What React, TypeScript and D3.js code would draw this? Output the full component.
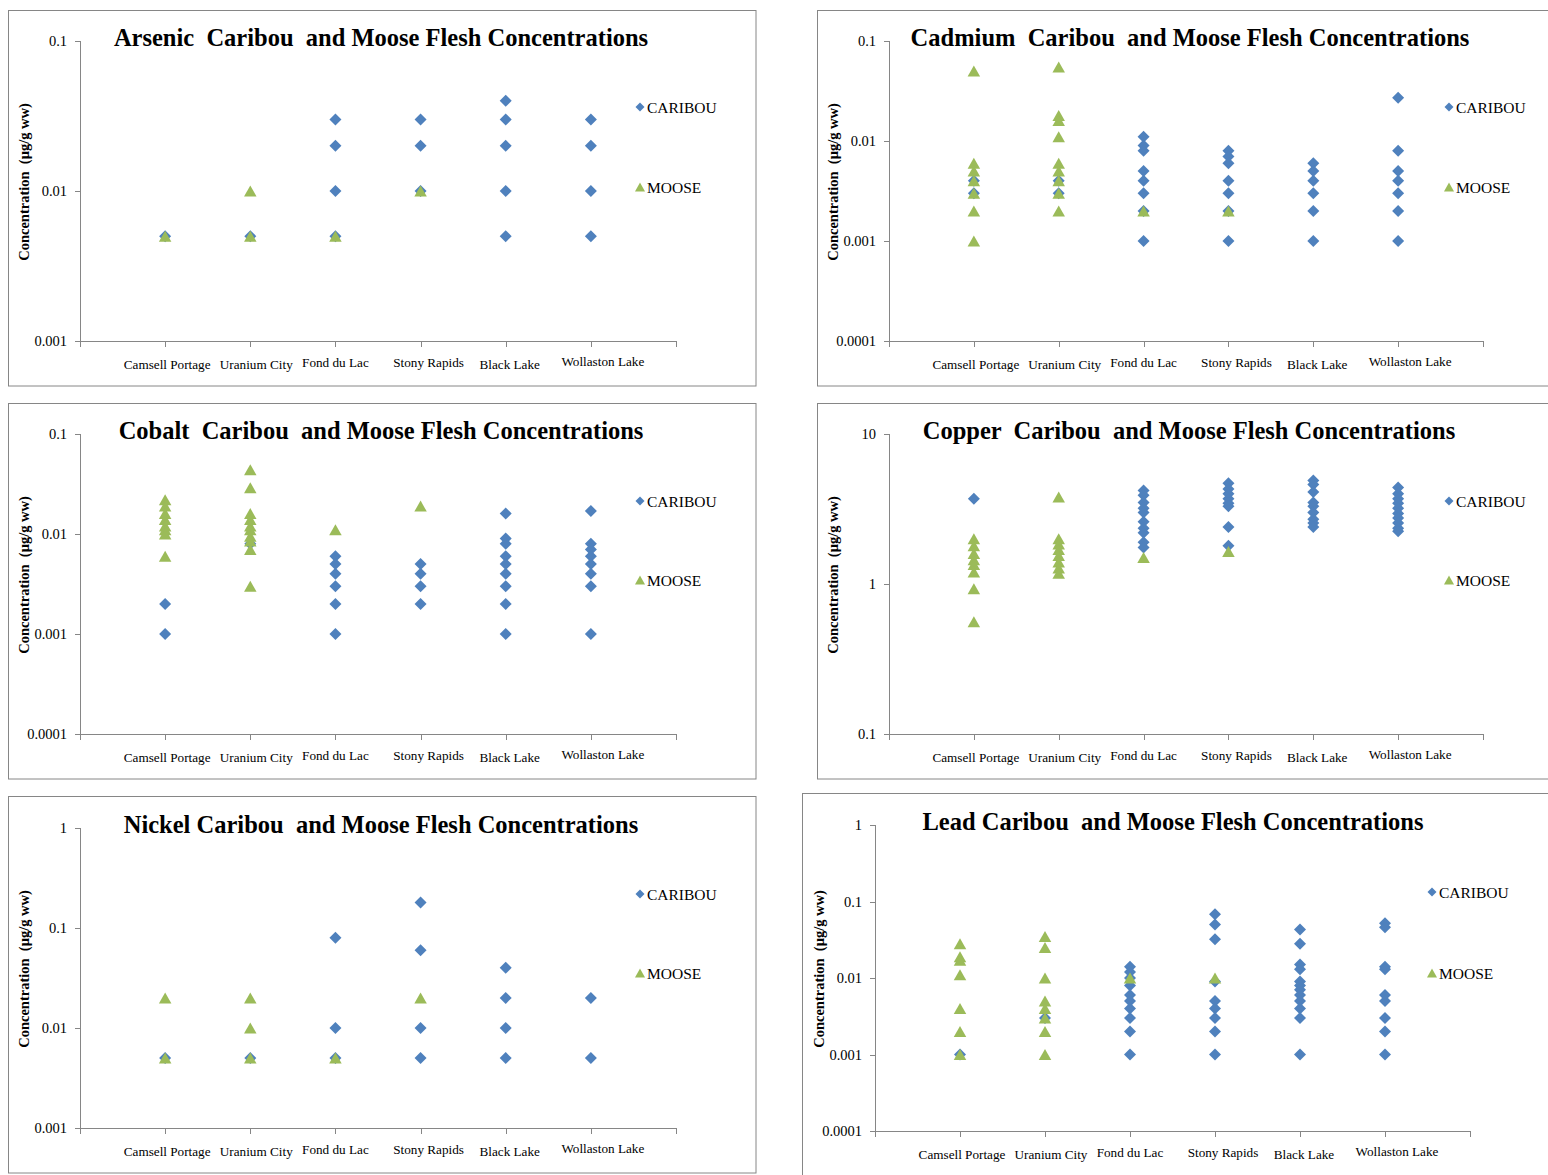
import React from 'react';
import * as d3 from 'd3';

// ---------- data ----------
const LOCATIONS = ['Camsell Portage', 'Uranium City', 'Fond du Lac', 'Stony Rapids', 'Black Lake', 'Wollaston Lake'];
const SERIES_NAMES = ['CARIBOU', 'MOOSE'];

const arsenicCaribou = [[0.005], [0.005], [0.03, 0.02, 0.01, 0.005], [0.03, 0.02, 0.01], [0.04, 0.03, 0.02, 0.01, 0.005], [0.03, 0.02, 0.01, 0.005]];
const arsenicMoose = [[0.005], [0.01, 0.005], [0.005], [0.01], [], []];
const arsenicTicks = [0.001, 0.01, 0.1];

const cadmiumCaribou = [[0.004, 0.003], [0.004, 0.003], [0.011, 0.009, 0.008, 0.005, 0.004, 0.003, 0.002, 0.001], [0.008, 0.007, 0.006, 0.004, 0.003, 0.002, 0.001], [0.006, 0.005, 0.004, 0.003, 0.002, 0.001], [0.027, 0.008, 0.005, 0.004, 0.003, 0.002, 0.001]];
const cadmiumMoose = [[0.05, 0.006, 0.005, 0.004, 0.003, 0.002, 0.001], [0.055, 0.018, 0.016, 0.011, 0.006, 0.005, 0.004, 0.003, 0.002], [0.002], [0.002], [], []];
const cadmiumTicks = [0.0001, 0.001, 0.01, 0.1];

const cobaltCaribou = [[0.002, 0.001], [0.008], [0.006, 0.005, 0.004, 0.003, 0.002, 0.001], [0.005, 0.004, 0.003, 0.002], [0.016, 0.009, 0.008, 0.006, 0.005, 0.004, 0.003, 0.002, 0.001], [0.017, 0.008, 0.007, 0.006, 0.005, 0.004, 0.003, 0.001]];
const cobaltMoose = [[0.022, 0.019, 0.016, 0.014, 0.012, 0.011, 0.01, 0.006], [0.044, 0.029, 0.016, 0.014, 0.012, 0.011, 0.0095, 0.0085, 0.007, 0.003], [0.011], [0.019], [], []];
const cobaltTicks = [0.0001, 0.001, 0.01, 0.1];

const copperCaribou = [[3.7], [], [4.2, 3.9, 3.5, 3.2, 3.0, 2.6, 2.35, 2.2, 1.9, 1.75], [4.7, 4.3, 4.0, 3.7, 3.45, 3.3, 2.4, 1.8], [4.9, 4.6, 4.1, 3.5, 3.3, 3.0, 2.7, 2.55, 2.4], [4.4, 4.0, 3.7, 3.45, 3.2, 2.95, 2.75, 2.55, 2.35, 2.25]];
const copperMoose = [[2.0, 1.8, 1.6, 1.45, 1.35, 1.2, 0.93, 0.56], [3.8, 2.0, 1.85, 1.7, 1.55, 1.4, 1.28, 1.18], [1.5], [1.65], [], []];
const copperTicks = [0.1, 1, 10];

const nickelCaribou = [[0.005], [0.005], [0.08, 0.01, 0.005], [0.18, 0.06, 0.01, 0.005], [0.04, 0.02, 0.01, 0.005], [0.02, 0.005]];
const nickelMoose = [[0.02, 0.005], [0.02, 0.01, 0.005], [0.005], [0.02], [], []];
const nickelTicks = [0.001, 0.01, 0.1, 1];

const leadCaribou = [[0.001], [0.003], [0.014, 0.012, 0.01, 0.008, 0.006, 0.005, 0.004, 0.003, 0.002, 0.001], [0.068, 0.05, 0.032, 0.009, 0.005, 0.004, 0.003, 0.002, 0.001], [0.043, 0.028, 0.015, 0.013, 0.009, 0.008, 0.007, 0.006, 0.005, 0.004, 0.003, 0.001], [0.052, 0.046, 0.014, 0.013, 0.006, 0.005, 0.003, 0.002, 0.001]];
const leadMoose = [[0.028, 0.019, 0.017, 0.011, 0.004, 0.002, 0.001], [0.035, 0.025, 0.01, 0.005, 0.004, 0.003, 0.002, 0.001], [0.01], [0.01], [], []];
const leadTicks = [0.0001, 0.001, 0.01, 0.1, 1];

// ---------- layout / style ----------
const BLUE = '#4F81BD';
const GREEN = '#9BBB59';
const AXIS = '#868686';
const SERIF = '"Times New Roman", "Liberation Serif", "DejaVu Serif", serif';
const LABEL_DX = [2, 6, 0, 8, 4, 12];
const LABEL_DY = [0, 0, -2, -2, 0, -3];

type Spec = {
  title: string; caribou: number[][]; moose: number[][]; ticks: number[];
  box: [number, number, number, number];
  left: number; right: number; top: number; bottom: number;
  titleX: number; legendX: number; legendY1: number; legendY2: number;
};

const PANELS: Spec[] = [
  { title: 'Arsenic  Caribou  and Moose Flesh Concentrations', caribou: arsenicCaribou, moose: arsenicMoose, ticks: arsenicTicks,
    box: [8.5, 10.5, 747.5, 375.5], left: 80, right: 676, top: 41, bottom: 341, titleX: 381, legendX: 640, legendY1: 107, legendY2: 187 },
  { title: 'Cadmium  Caribou  and Moose Flesh Concentrations', caribou: cadmiumCaribou, moose: cadmiumMoose, ticks: cadmiumTicks,
    box: [817.5, 10.5, 760, 375.5], left: 889, right: 1483, top: 41, bottom: 341, titleX: 1190, legendX: 1449, legendY1: 107, legendY2: 187 },
  { title: 'Cobalt  Caribou  and Moose Flesh Concentrations', caribou: cobaltCaribou, moose: cobaltMoose, ticks: cobaltTicks,
    box: [8.5, 403.5, 747.5, 375.5], left: 80, right: 676, top: 434, bottom: 734, titleX: 381, legendX: 640, legendY1: 501, legendY2: 580 },
  { title: 'Copper  Caribou  and Moose Flesh Concentrations', caribou: copperCaribou, moose: copperMoose, ticks: copperTicks,
    box: [817.5, 403.5, 760, 375.5], left: 889, right: 1483, top: 434, bottom: 734, titleX: 1189, legendX: 1449, legendY1: 501, legendY2: 580 },
  { title: 'Nickel Caribou  and Moose Flesh Concentrations', caribou: nickelCaribou, moose: nickelMoose, ticks: nickelTicks,
    box: [8.5, 796.5, 747.5, 376.5], left: 80, right: 676, top: 828, bottom: 1128, titleX: 381, legendX: 640, legendY1: 894, legendY2: 973 },
  { title: 'Lead Caribou  and Moose Flesh Concentrations', caribou: leadCaribou, moose: leadMoose, ticks: leadTicks,
    box: [802.5, 793.5, 780, 420], left: 875, right: 1470, top: 825, bottom: 1131, titleX: 1173, legendX: 1432, legendY1: 892, legendY2: 973 },
];

function diamondPath(r: number) {
  const p = d3.path();
  p.moveTo(0, -r); p.lineTo(r, 0); p.lineTo(0, r); p.lineTo(-r, 0); p.closePath();
  return p.toString();
}
function trianglePath(w: number, h: number) {
  const p = d3.path();
  p.moveTo(0, -h / 2); p.lineTo(w / 2, h / 2); p.lineTo(-w / 2, h / 2); p.closePath();
  return p.toString();
}

const DIAMOND = diamondPath(6);
const TRIANGLE = trianglePath(12.5, 11);
const LEG_DIAMOND = diamondPath(4.5);
const LEG_TRIANGLE = trianglePath(10, 9);

function Panel({ s }: { s: Spec }) {
  const x = d3.scaleLinear().domain([0, LOCATIONS.length + 1]).range([s.left, s.right]);
  const y = d3.scaleLog().domain([s.ticks[0], s.ticks[s.ticks.length - 1]]).range([s.bottom, s.top]);
  const xTicks = d3.range(0, LOCATIONS.length + 2);
  const flat = (arr: number[][]) => arr.flatMap((vals, i) => vals.map((v) => ({ i, v })));
  const cPts = flat(s.caribou);
  const mPts = flat(s.moose);
  const midY = (s.top + s.bottom) / 2 - 9;
  const yLabX = s.left - 51;
  return (
    <g>
      <rect x={s.box[0]} y={s.box[1]} width={s.box[2]} height={s.box[3]} fill="white" stroke={AXIS} strokeWidth={1} />
      <text x={s.titleX} y={s.top + 5} textAnchor="middle" fontFamily={SERIF} fontWeight="bold" fontSize={24.5} style={{ whiteSpace: 'pre' }} fill="#000">{s.title}</text>
      {/* y axis */}
      <line x1={s.left + 0.5} x2={s.left + 0.5} y1={s.top} y2={s.bottom} stroke={AXIS} />
      {s.ticks.map((t) => (
        <g key={t}>
          <line x1={s.left - 5} x2={s.left} y1={Math.round(y(t)) + 0.5} y2={Math.round(y(t)) + 0.5} stroke={AXIS} />
          <text x={s.left - 13} y={y(t) + 5} textAnchor="end" fontFamily={SERIF} fontSize={14.5} fill="#000">{String(t)}</text>
        </g>
      ))}
      {/* x axis */}
      <line x1={s.left} x2={s.right} y1={s.bottom + 0.5} y2={s.bottom + 0.5} stroke={AXIS} />
      {xTicks.map((t) => (
        <line key={t} x1={Math.round(x(t)) + 0.5} x2={Math.round(x(t)) + 0.5} y1={s.bottom} y2={s.bottom + 6} stroke={AXIS} />
      ))}
      {LOCATIONS.map((name, i) => (
        <text key={name} x={x(i + 1) + LABEL_DX[i]} y={s.bottom + 28 + LABEL_DY[i]} textAnchor="middle" fontFamily={SERIF} fontSize={13.2} fill="#000">{name}</text>
      ))}
      <text transform={`translate(${yLabX},${midY}) rotate(-90)`} textAnchor="middle" fontFamily={SERIF} fontWeight="bold" fontSize={14.5} style={{ whiteSpace: 'pre' }} fill="#000">{'Concentration  (μg/g ww)'}</text>
      {/* points */}
      {cPts.map((p, k) => (
        <path key={'c' + k} d={DIAMOND} transform={`translate(${x(p.i + 1)},${y(p.v)})`} fill={BLUE} />
      ))}
      {mPts.map((p, k) => (
        <path key={'m' + k} d={TRIANGLE} transform={`translate(${x(p.i + 1)},${y(p.v)})`} fill={GREEN} />
      ))}
      {/* legend */}
      <path d={LEG_DIAMOND} transform={`translate(${s.legendX},${s.legendY1})`} fill={BLUE} />
      <text x={s.legendX + 7} y={s.legendY1 + 5.5} fontFamily={SERIF} fontSize={15.5} fill="#000">{SERIES_NAMES[0]}</text>
      <path d={LEG_TRIANGLE} transform={`translate(${s.legendX},${s.legendY2})`} fill={GREEN} />
      <text x={s.legendX + 7} y={s.legendY2 + 5.5} fontFamily={SERIF} fontSize={15.5} fill="#000">{SERIES_NAMES[1]}</text>
    </g>
  );
}

export default function App() {
  return (
    <svg width={1548} height={1175} style={{ position: 'absolute', left: 0, top: 0, background: 'white' }}>
      <rect x={0} y={0} width={1548} height={1175} fill="white" />
      {PANELS.map((s) => <Panel key={s.title} s={s} />)}
    </svg>
  );
}
